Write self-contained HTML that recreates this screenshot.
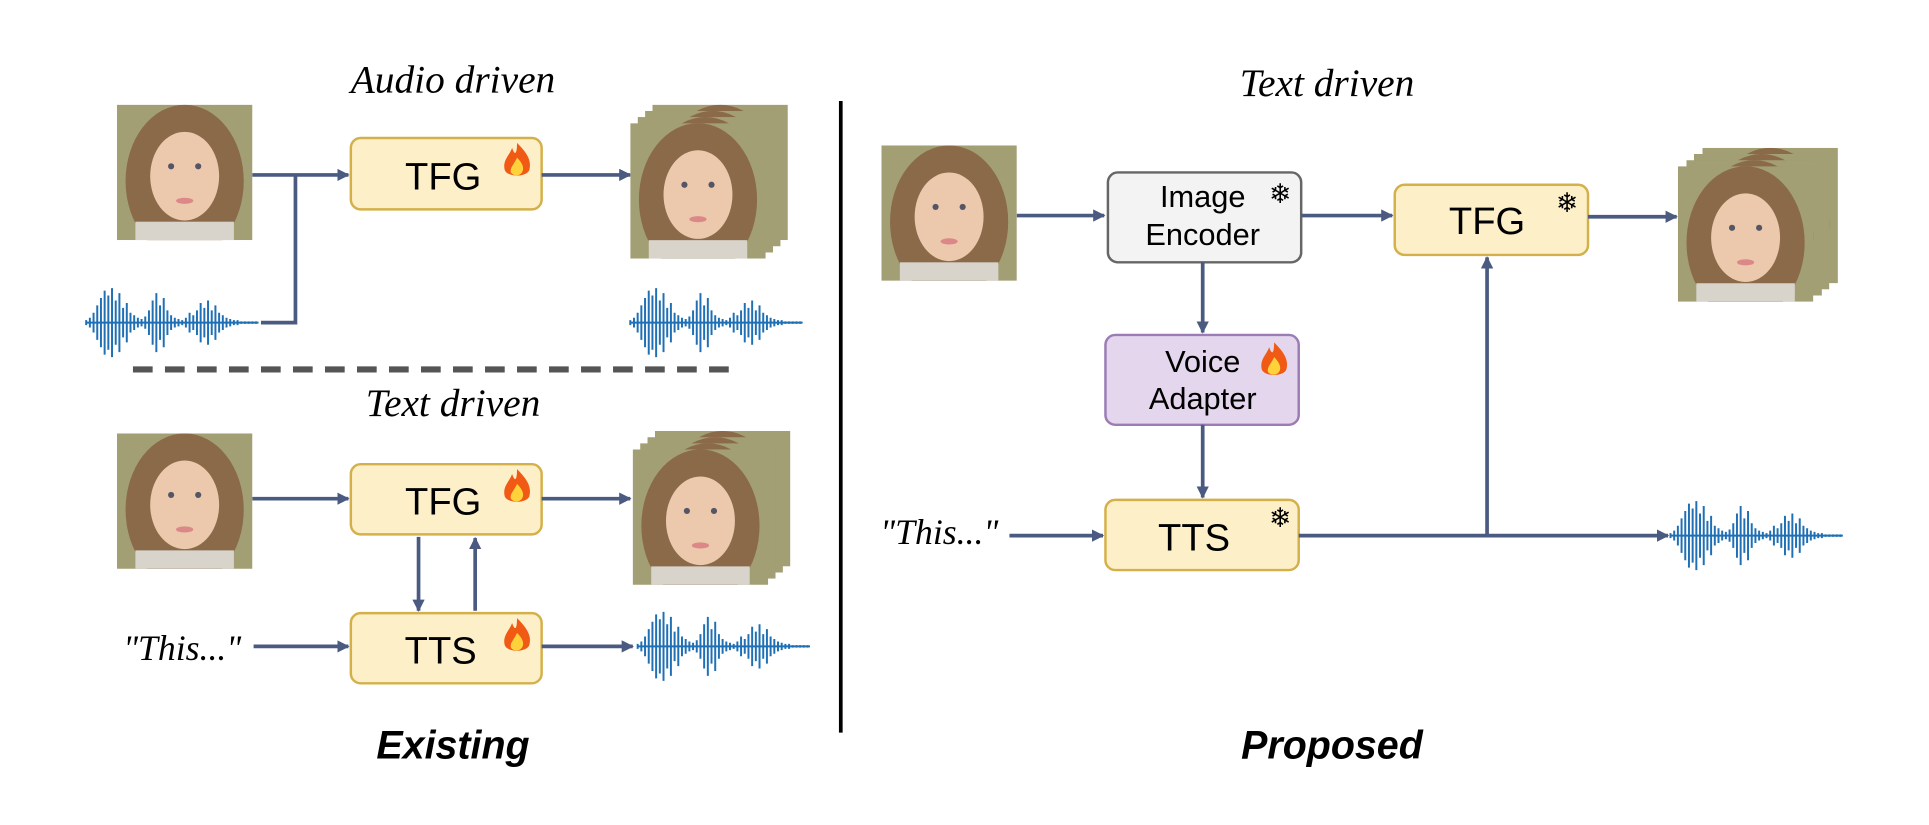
<!DOCTYPE html>
<html><head><meta charset="utf-8"><style>
html,body{margin:0;padding:0;background:#fff;width:1929px;height:825px;overflow:hidden}
svg{display:block}
.t{font-family:"Liberation Sans",sans-serif;fill:#000}
.it{font-family:"Liberation Serif",serif;font-style:italic;fill:#000}
.bb{font-family:"Liberation Sans",sans-serif;font-weight:bold;font-style:italic;fill:#000}
.ar{stroke:#4a5a80;stroke-width:3;fill:none}
.y{fill:#fdf0c8;stroke:#d4b04a;stroke-width:2}
.sf{font-family:"DejaVu Sans",sans-serif;fill:#000}
</style></head><body>
<svg width="1929" height="825" viewBox="0 0 1567 670" xmlns="http://www.w3.org/2000/svg">
<defs>
<marker id="a" markerWidth="10" markerHeight="10" refX="9" refY="5" orient="auto" markerUnits="userSpaceOnUse">
<path d="M0,0 L10,5 L0,10 Z" fill="#4a5a80"/></marker>
<clipPath id="fc"><rect width="110" height="110"/></clipPath>
<g id="face" clip-path="url(#fc)">
<rect width="110" height="110" fill="#a39f74"/>
<ellipse cx="55" cy="62" rx="48" ry="62" fill="#8a6a48"/>
<rect x="15" y="95" width="80" height="15" fill="#d8d4cc"/>
<ellipse cx="55" cy="58" rx="28" ry="36" fill="#ecc9ad"/>
<circle cx="44" cy="50" r="2.5" fill="#556"/><circle cx="66" cy="50" r="2.5" fill="#556"/>
<ellipse cx="55" cy="78" rx="7" ry="2.5" fill="#d88"/>
</g>
<g id="flame">
<path d="M0,-14 C8,-6 12,0 10,8 C8,14 -8,14 -10,8 C-12,0 -6,-4 -4,-10 C-2,-4 0,-4 0,-14Z" fill="#f05a14"/>
<path d="M0,-2 C5,3 6,7 4,10 C2,13 -3,13 -5,10 C-6,6 -2,3 0,-2Z" fill="#ffd23c"/>
</g>
<path id="wave" stroke="#1f6fb5" stroke-width="1.6" fill="none" d="M0,-2V2M3,-4V4M6,-8V8M9,-14V14M12,-20V20M15,-26V26M18,-22V22M21,-28V28M24,-18V18M27,-24V24M30,-12V12M33,-16V16M36,-8V8M39,-6V6M42,-4V4M45,-3V3M48,-5V5M51,-10V10M54,-18V18M57,-24V24M60,-14V14M63,-20V20M66,-10V10M69,-6V6M72,-4V4M75,-3V3M78,-2V2M81,-4V4M84,-8V8M87,-6V6M90,-10V10M93,-16V16M96,-12V12M99,-18V18M102,-10V10M105,-14V14M108,-8V8M111,-6V6M114,-4V4M117,-3V3M120,-2V2M123,-2V2M126,-1V1M129,-1V1M132,-1V1M135,-1V1M138,-1V1M0,0H140"/>
</defs>

<text class="it" x="368" y="75" font-size="32" text-anchor="middle">Audio driven</text>
<use href="#face" x="95" y="85"/>
<rect class="y" x="285" y="112" width="155" height="58" rx="8"/>
<text class="t" x="360" y="154" font-size="31" text-anchor="middle">TFG</text>
<use href="#flame" x="420" y="130"/>
<line class="ar" x1="205" y1="142" x2="283" y2="142" marker-end="url(#a)"/>
<polyline class="ar" points="212,262 240,262 240,142"/>
<line class="ar" x1="440" y1="142" x2="512" y2="142" marker-end="url(#a)"/>
<use href="#face" x="530" y="85"/><use href="#face" x="524" y="90"/><use href="#face" x="518" y="95"/><use href="#face" x="512" y="100"/>
<use href="#wave" x="70" y="262"/>
<use href="#wave" x="512" y="262"/>
<line x1="108" y1="300" x2="600" y2="300" stroke="#555" stroke-width="5" stroke-dasharray="16,10"/>

<text class="it" x="368" y="338" font-size="32" text-anchor="middle">Text driven</text>
<use href="#face" x="95" y="352"/>
<rect class="y" x="285" y="377" width="155" height="57" rx="8"/>
<text class="t" x="360" y="418" font-size="31" text-anchor="middle">TFG</text>
<use href="#flame" x="420" y="395"/>
<line class="ar" x1="205" y1="405" x2="283" y2="405" marker-end="url(#a)"/>
<line class="ar" x1="440" y1="405" x2="512" y2="405" marker-end="url(#a)"/>
<use href="#face" x="532" y="350"/><use href="#face" x="526" y="355"/><use href="#face" x="520" y="360"/><use href="#face" x="514" y="365"/>
<line class="ar" x1="340" y1="436" x2="340" y2="496" marker-end="url(#a)"/>
<line class="ar" x1="386" y1="496" x2="386" y2="437" marker-end="url(#a)"/>
<rect class="y" x="285" y="498" width="155" height="57" rx="8"/>
<text class="t" x="358" y="539" font-size="31" text-anchor="middle">TTS</text>
<use href="#flame" x="420" y="516"/>
<text class="it" x="148" y="536" font-size="29" text-anchor="middle">"This..."</text>
<line class="ar" x1="206" y1="525" x2="283" y2="525" marker-end="url(#a)"/>
<line class="ar" x1="440" y1="525" x2="514" y2="525" marker-end="url(#a)"/>
<use href="#wave" x="518" y="525"/>
<text class="bb" x="368" y="616" font-size="32" text-anchor="middle">Existing</text>

<line x1="683" y1="82" x2="683" y2="595" stroke="#000" stroke-width="3"/>

<text class="it" x="1078" y="78" font-size="32" text-anchor="middle">Text driven</text>
<use href="#face" x="716" y="118"/>
<line class="ar" x1="826" y1="175" x2="897" y2="175" marker-end="url(#a)"/>
<rect x="900" y="140" width="157" height="73" rx="8" fill="#f3f3f3" stroke="#666" stroke-width="2"/>
<text class="t" x="977" y="168" font-size="25" text-anchor="middle" fill="#333">Image</text>
<text class="t" x="977" y="199" font-size="25" text-anchor="middle" fill="#333">Encoder</text>
<text class="sf" x="1040" y="165" font-size="22" text-anchor="middle">❄</text>
<line class="ar" x1="1057" y1="175" x2="1131" y2="175" marker-end="url(#a)"/>
<rect class="y" x="1133" y="150" width="157" height="57" rx="8"/>
<text class="t" x="1208" y="190" font-size="31" text-anchor="middle">TFG</text>
<text class="sf" x="1273" y="172" font-size="22" text-anchor="middle">❄</text>
<line class="ar" x1="1290" y1="176" x2="1362" y2="176" marker-end="url(#a)"/>
<use href="#face" x="1383" y="120"/><use href="#face" x="1376" y="125"/><use href="#face" x="1370" y="130"/><use href="#face" x="1363" y="135"/>
<line class="ar" x1="977" y1="213" x2="977" y2="270" marker-end="url(#a)"/>
<rect x="898" y="272" width="157" height="73" rx="8" fill="#e4d6ec" stroke="#9b7cb5" stroke-width="2"/>
<text class="t" x="977" y="302" font-size="25" text-anchor="middle" fill="#222">Voice</text>
<text class="t" x="977" y="332" font-size="25" text-anchor="middle" fill="#222">Adapter</text>
<use href="#flame" x="1035" y="292"/>
<line class="ar" x1="977" y1="345" x2="977" y2="404" marker-end="url(#a)"/>
<rect class="y" x="898" y="406" width="157" height="57" rx="8"/>
<text class="t" x="970" y="447" font-size="31" text-anchor="middle">TTS</text>
<text class="sf" x="1040" y="428" font-size="22" text-anchor="middle">❄</text>
<text class="it" x="763" y="442" font-size="29" text-anchor="middle">"This..."</text>
<line class="ar" x1="820" y1="435" x2="896" y2="435" marker-end="url(#a)"/>
<line class="ar" x1="1055" y1="435" x2="1355" y2="435" marker-end="url(#a)"/>
<line class="ar" x1="1208" y1="435" x2="1208" y2="209" marker-end="url(#a)"/>
<use href="#wave" x="1357" y="435"/>
<text class="bb" x="1082" y="616" font-size="32" text-anchor="middle">Proposed</text>
</svg>
</body></html>
